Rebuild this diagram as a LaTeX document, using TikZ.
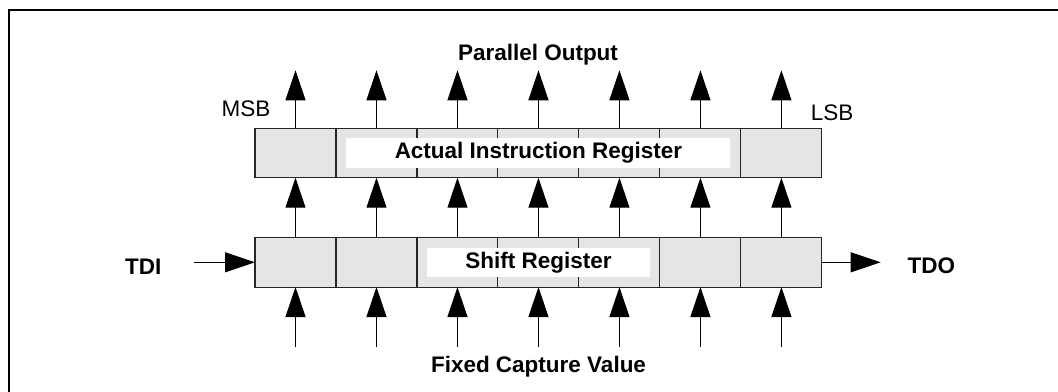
\documentclass[tikz,border=0pt]{standalone}
\usepackage{fontspec}
\setmainfont{Liberation Sans}
\usetikzlibrary{arrows.meta, positioning}

\begin{document}
\begin{tikzpicture}[
      x=0.02cm, y=-0.02cm,
      font=\fontsize{12.8}{15}\selectfont,
      cell/.style={draw=black!85, fill=black!10, rectangle, minimum width=1.62cm,
          minimum height=0.99cm, outer sep=0pt, inner sep=0pt, line width=0.6pt},
      lbl/.style={fill=white, rectangle, minimum height=0.59cm, inner sep=0pt,
          font=\fontsize{12.8}{15}\selectfont\bfseries},
      txt/.style={font=\fontsize{12.8}{15}\selectfont\bfseries, anchor=base},
      arr/.style={-{Triangle[width=0.4cm, length=0.6cm]}, line width=0.6pt},
    ]
    \useasboundingbox (0,0) rectangle (1058,392);

    % outer frame
    \draw[line width=1.15pt] (1058,10) -- (8.7,10) -- (8.7,392);

    \node[cell] (ir1) at (295.5,153) {};
    \node[cell] (sr1) at (295.5,262.3) {};
    \foreach \i [count=\j from 2] in {1,...,6} {
      \node[cell, right=0pt of ir\i] (ir\j) {};
      \node[cell, right=0pt of sr\i] (sr\j) {};
    }

    \node[lbl, minimum width=7.68cm] (irlabel) at (ir4) {Actual Instruction Register};
    \node[lbl, minimum width=4.46cm] (srlabel) at (sr4) {Shift Register};

    \foreach \i in {1,...,7} {
      \coordinate[above=1.16cm of ir\i.north] (po\i);
      \coordinate[below=1.19cm of sr\i.south] (cv\i);
      \draw[arr] (ir\i) -- (po\i);
      \draw[arr] (sr\i) -- (ir\i);
      \draw[arr] (cv\i) -- (sr\i);
    }

    \node[txt] (po) at (538,60) {Parallel Output};
    \node[txt] (cv) at (538.5,372.3) {Fixed Capture Value};
    \node[txt] (tdi) at (143.3,274.3) {TDI};
    \node[txt] (tdo) at (931.3,273.3) {TDO};
    \node[anchor=base] (msb) at (246,116) {MSB};
    \node[anchor=base] (lsb) at (832,120.7) {LSB};

    \coordinate (tdiin) at (194.3,262.3);
    \coordinate (tdoout) at (880.7,262.3);
    \draw[arr] (tdiin) -- (sr1);
    \draw[arr] (sr7) -- (tdoout);

  \end{tikzpicture}
\end{document}
